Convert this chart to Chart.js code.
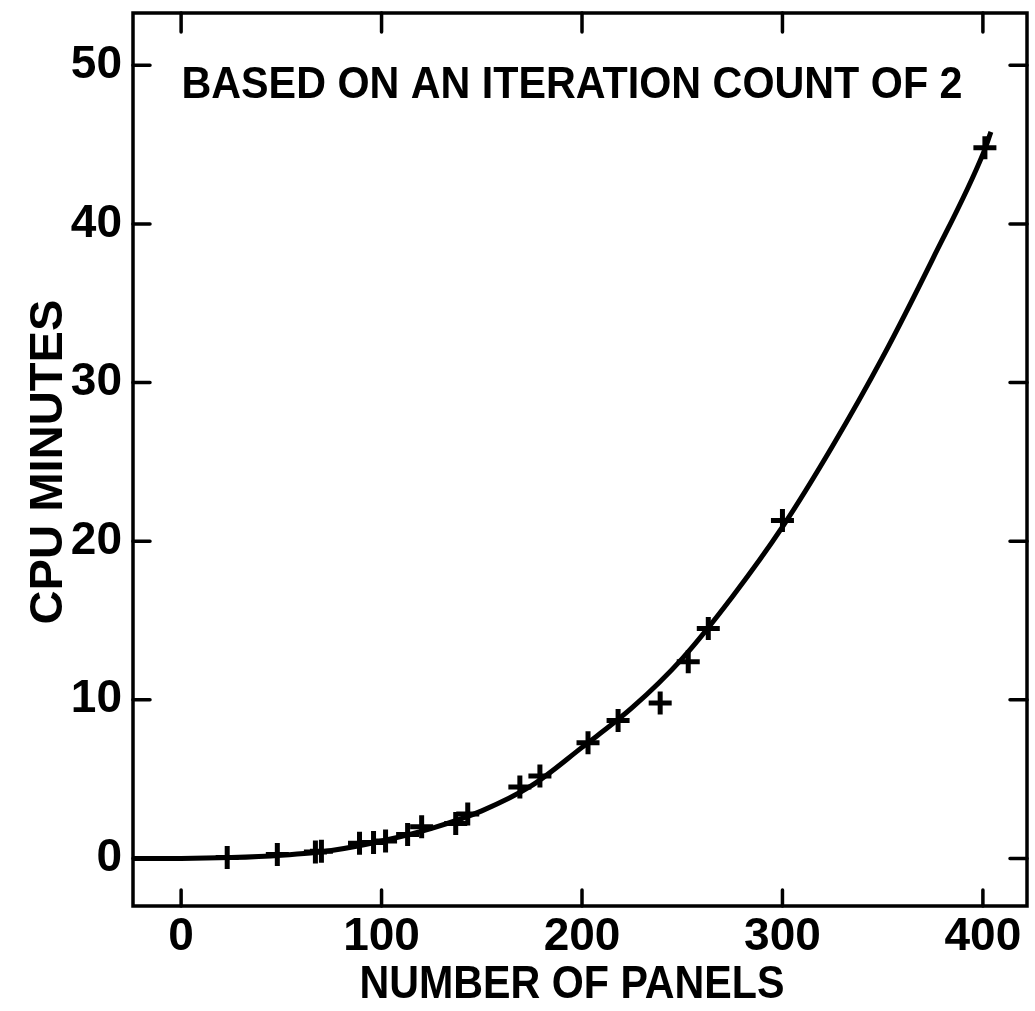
<!DOCTYPE html>
<html>
<head>
<meta charset="utf-8">
<title>CPU minutes vs number of panels</title>
<script src="https://cdn.jsdelivr.net/npm/chart.js@4/dist/chart.umd.min.js"></script>
<style>
	html, body { margin: 0; padding: 0; background: #fff; overflow: hidden; }
	#wrap { width: 1035px; height: 1011px; }
	#cpuChart { display: block; }
</style>
</head>
<body>
<div id="wrap"><canvas id="cpuChart" width="1035" height="1011"></canvas></div>
<script>

	/* Data */
	var xTickValues = [0, 100, 200, 300, 400];
	var yTickValues = [0, 10, 20, 30, 40, 50];

	// measured runs (the "+" marks)
	var panelCounts = [23, 48, 67, 70, 89, 96, 102, 113, 120, 137, 143, 169, 179, 203, 218, 239, 253, 263, 300, 401];
	var cpuMinutes  = [0.05, 0.25, 0.4, 0.45, 0.95, 1.0, 1.1, 1.5, 2.0, 2.2, 2.8, 4.5, 5.2, 7.3, 8.7, 9.8, 12.4, 14.5, 21.3, 44.8];

	// faired curve through them
	var curvePanels = [-24, 0, 25, 50, 75, 100, 125, 150, 175, 200, 225, 250, 275, 300, 325, 350, 375, 400, 404];
	var curveMinutes = [0, 0, 0.05, 0.2, 0.5, 1.1, 1.9, 3.0, 4.6, 7.0, 9.5, 12.6, 16.5, 20.9, 26.0, 31.6, 37.8, 44.4, 45.8];

	var noteText = 'BASED ON AN ITERATION COUNT OF 2';
	var xTitle = 'NUMBER OF PANELS';
	var yTitle = 'CPU MINUTES';

	var fontFamily = '"Liberation Sans", Arial, Helvetica, sans-serif';

	function toPoints(xs, ys) {
		var pts = [];
		for (var i = 0; i < xs.length; i++) {
			pts.push({ x: xs[i], y: ys[i] });
		}
		return pts;
	}

	// text squeezed to a given width, like the hand lettering
	function drawSqueezed(ctx, str, cx, baseY, width, size, rotate) {
		ctx.save();
		ctx.font = 'bold ' + size + 'px ' + fontFamily;
		var w = ctx.measureText(str).width;
		ctx.translate(cx, baseY);
		if (rotate) ctx.rotate(-Math.PI / 2);
		ctx.scale(width / w, 1);
		ctx.textAlign = 'center';
		ctx.textBaseline = 'alphabetic';
		ctx.fillStyle = '#000';
		ctx.fillText(str, 0, 0);
		ctx.restore();
	}

	/* frame, inward ticks on all four sides, and the lettering */
	var framePlugin = {
		id: 'framePlugin',
		afterDraw: function(chart) {
			var ctx = chart.ctx;
			var a = chart.chartArea;
			var xs = chart.scales.x;
			var ys = chart.scales.y;

			ctx.save();
			ctx.strokeStyle = '#000';
			ctx.lineWidth = 3.5;
			ctx.lineCap = 'round';
			ctx.strokeRect(a.left, a.top, a.right - a.left, a.bottom - a.top);

			ctx.beginPath();
			xTickValues.forEach(function(v) {
				var px = xs.getPixelForValue(v);
				ctx.moveTo(px, a.bottom); ctx.lineTo(px, a.bottom - 16);
				ctx.moveTo(px, a.top); ctx.lineTo(px, a.top + 19);
			});
			yTickValues.forEach(function(v) {
				var py = ys.getPixelForValue(v);
				ctx.moveTo(a.left, py); ctx.lineTo(a.left + 17, py);
				ctx.moveTo(a.right, py); ctx.lineTo(a.right - 17, py);
			});
			ctx.stroke();
			ctx.restore();

			drawSqueezed(ctx, noteText, 572, 98, 781, 45, false);
			drawSqueezed(ctx, xTitle, 572, 998, 425, 46, false);
			drawSqueezed(ctx, yTitle, 62, 462, 325, 46, true);
		}
	};

	var ctx = document.getElementById('cpuChart');

	var cpuChart = new Chart(ctx, {
		type: 'scatter',
		data: {
			datasets: [{
				type: 'line',
				data: toPoints(curvePanels, curveMinutes),
				borderColor: '#000',
				borderWidth: 5,
				pointRadius: 0,
				cubicInterpolationMode: 'monotone',
				fill: false
			}, {
				type: 'scatter',
				data: toPoints(panelCounts, cpuMinutes),
				pointStyle: 'cross',
				pointRadius: 11.5,
				borderWidth: 5,
				pointBorderWidth: 5,
				borderColor: '#000',
				pointBorderColor: '#000',
				backgroundColor: '#000'
			}]
		},
		options: {
			responsive: false,
			animation: false,
			devicePixelRatio: 1,
			layout: {
				autoPadding: false,
				padding: { top: 13, right: 8, left: 0, bottom: 0 }
			},
			plugins: {
				legend: { display: false },
				tooltip: { enabled: false }
			},
			scales: {
				x: {
					type: 'linear',
					min: -24,
					max: 422,
					afterBuildTicks: function(scale) {
						scale.ticks = xTickValues.map(function(v) { return { value: v }; });
					},
					afterFit: function(scale) {
						scale.height = 105;
						scale.paddingLeft = 0;
						scale.paddingRight = 0;
					},
					grid: { display: false, drawTicks: false },
					border: { display: false },
					ticks: {
						color: '#000',
						padding: 4,
						font: { family: fontFamily, weight: 'bold', size: 46 }
					}
				},
				y: {
					type: 'linear',
					min: -3,
					max: 53.3,
					afterBuildTicks: function(scale) {
						scale.ticks = yTickValues.map(function(v) { return { value: v }; });
					},
					afterFit: function(scale) {
						scale.width = 133;
						scale.paddingTop = 0;
						scale.paddingBottom = 0;
					},
					grid: { display: false, drawTicks: false },
					border: { display: false },
					ticks: {
						color: '#000',
						padding: 11,
						font: { family: fontFamily, weight: 'bold', size: 46 }
					}
				}
			}
		},
		plugins: [framePlugin]
	});

</script>
</body>
</html>
